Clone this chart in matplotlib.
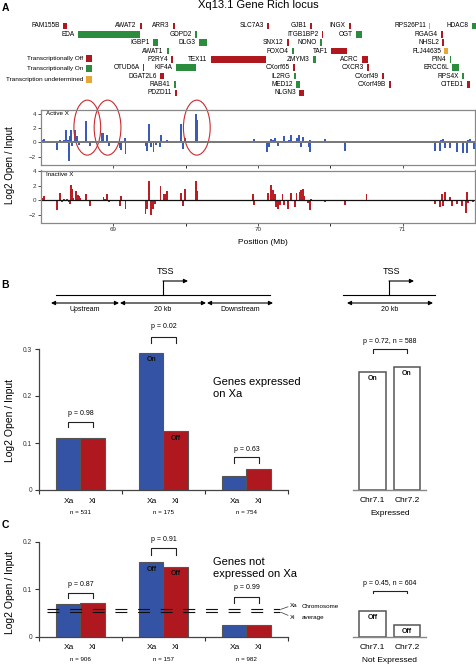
import numpy as np
import matplotlib
matplotlib.use("Agg")
import matplotlib.pyplot as plt
from matplotlib.patches import Ellipse, Rectangle

plt.rcParams['font.family'] = ['Liberation Sans', 'DejaVu Sans']
plt.rcParams['lines.scale_dashes'] = False

# ---- data ----
# gene map (Xq13.1), start/end in Mb, row of the map, status
gene_names = ['FAM155B', 'AWAT2', 'ARR3', 'SLC7A3', 'GJB1', 'INGX', 'RPS26P11', 'HDAC8',
              'EDA', 'GDPD2', 'ITGB1BP2', 'OGT', 'RGAG4',
              'IGBP1', 'DLG3', 'SNX12', 'NONO', 'NHSL2',
              'AWAT1', 'FOXO4', 'TAF1', 'FLJ44635',
              'P2RY4', 'TEX11', 'ZMYM3', 'ACRC', 'PIN4',
              'OTUD6A', 'KIF4A', 'CXorf65', 'CXCR3', 'ERCC6L',
              'DGAT2L6', 'IL2RG', 'CXorf49', 'RPS4X',
              'RAB41', 'MED12', 'CXorf49B', 'CITED1',
              'PDZD11', 'NLGN3']
gene_start = [68.652, 69.185, 69.413, 70.064, 70.362, 70.631, 71.185, 71.476,
              68.756, 69.566, 70.445, 70.680, 71.268,
              69.275, 69.593, 70.202, 70.431, 71.275,
              69.372, 70.237, 70.507, 71.289,
              69.400, 69.676, 70.382, 70.721, 71.324,
              69.206, 69.434, 70.244, 70.756, 71.344,
              69.324, 70.251, 70.860, 71.413,
              69.420, 70.265, 70.908, 71.448,
              69.427, 70.286]
gene_end = [68.680, 69.199, 69.427, 70.078, 70.375, 70.645, 71.192, 71.517,
            69.185, 69.580, 70.452, 70.721, 71.282,
            69.310, 69.649, 70.216, 70.445, 71.289,
            69.386, 70.251, 70.618, 71.310,
            69.413, 70.057, 70.403, 70.763, 71.337,
            69.213, 69.573, 70.258, 70.770, 71.386,
            69.351, 70.265, 70.874, 71.427,
            69.434, 70.292, 70.922, 71.462,
            69.441, 70.320]
gene_row = [1] * 8 + [2] * 5 + [3] * 5 + [4] * 4 + [5] * 5 + [6] * 5 + [7] * 4 + [8] * 4 + [9] * 2
gene_status = ['off', 'off', 'off', 'off', 'off', 'off', 'und', 'on',
               'on', 'on', 'off', 'on', 'off',
               'on', 'on', 'off', 'on', 'off',
               'on', 'on', 'off', 'und',
               'off', 'off', 'on', 'off', 'on',
               'off', 'on', 'off', 'off', 'on',
               'off', 'on', 'off', 'on',
               'on', 'on', 'off', 'off',
               'off', 'off']

# open chromatin tracks (Mb, log2 open/input)
active_pos = [68.507, 68.518, 68.608, 68.634, 68.657, 68.673, 68.685, 68.692, 68.701, 68.708,
              68.715, 68.738, 68.747, 68.765, 68.812, 68.839, 68.922, 68.932, 68.955, 68.973,
              69.047, 69.054, 69.082, 69.084, 69.222, 69.234, 69.245, 69.262, 69.278, 69.296,
              69.322, 69.329, 69.349, 69.372, 69.465, 69.481, 69.495, 69.569, 69.580, 69.972,
              70.065, 70.076, 70.092, 70.104, 70.115, 70.139, 70.178, 70.192, 70.215, 70.231,
              70.254, 70.272, 70.286, 70.298, 70.312, 70.349, 70.358, 70.362, 70.462, 70.600,
              70.750, 71.223, 71.258, 71.265, 71.281, 71.292, 71.327, 71.373, 71.415, 71.443,
              71.453, 71.464, 71.492]
active_val = [0.4, 0.5, -1.1, 0.4, 0.4, 1.7, 0.4, -2.7, 0.9, 1.7,
              -0.5, 1.7, 0.9, -0.3, 3.1, -0.5, 1.4, 1.3, 1.1, -0.5,
              -0.8, -1.1, 0.6, -1.6, -0.5, -1.2, 2.6, -0.7, -1.3, -0.4,
              -0.7, 1.0, 0.1, 0.3, 2.6, -0.9, 0.6, 4.0, 3.2, 0.5,
              -1.3, -0.7, 0.5, 0.4, 0.6, -0.5, 0.9, -0.1, 0.3, 1.1,
              0.2, 0.6, 1.0, -0.6, 0.8, -0.7, 0.4, -1.4, 0.5, -1.2,
              0.1, -1.2, -1.2, 0.3, 0.5, -0.8, -0.8, -1.4, -1.5, -1.5,
              0.3, 0.5, -1.0]
inactive_pos = [68.507, 68.518, 68.608, 68.634, 68.645, 68.662, 68.680, 68.692, 68.701, 68.708,
                68.715, 68.724, 68.742, 68.754, 68.765, 68.772, 68.812, 68.839, 68.932, 68.945,
                68.955, 68.973, 69.047, 69.056, 69.084, 69.222, 69.234, 69.245, 69.262, 69.273,
                69.285, 69.326, 69.349, 69.361, 69.372, 69.469, 69.483, 69.497, 69.569, 69.580,
                69.965, 69.972, 70.069, 70.092, 70.104, 70.115, 70.127, 70.139, 70.150, 70.169,
                70.178, 70.208, 70.226, 70.254, 70.266, 70.289, 70.300, 70.312, 70.319, 70.346,
                70.358, 70.369, 70.462, 70.600, 70.750, 71.223, 71.258, 71.269, 71.281, 71.292,
                71.327, 71.339, 71.373, 71.408, 71.438, 71.443, 71.453, 71.487]
inactive_val = [0.3, 0.6, -1.4, 1.0, -0.2, 0.1, 0.2, -0.3, -0.6, 2.1,
                1.6, 0.3, 1.2, 0.7, 0.5, 0.3, 0.8, -0.8, 0.4, 0.2,
                0.8, -0.2, -0.8, 0.6, -1.2, -1.9, -1.2, 2.7, -2.0, -1.3,
                -0.6, 1.9, 0.8, 0.9, 1.3, 1.0, -0.8, 1.6, 2.7, 1.2,
                0.8, -0.7, 1.0, 2.1, 1.4, 0.9, -1.0, -1.2, -0.7, 0.9,
                -0.7, -1.2, 1.0, -0.9, 1.0, 1.1, 1.4, 1.6, 0.5, -0.4,
                -1.4, 0.2, -0.2, -0.7, 0.9, -0.6, -0.9, 0.8, -0.8, 1.1,
                0.4, -0.8, -0.6, -0.8, -1.8, 1.1, -0.4, -0.2]
circled_mb = [68.82, 68.96, 69.577]

# B / C summary bars
regions = ['Upstream', 'TSS', 'Downstream']
xa_expr = [0.110, 0.292, 0.029]
xi_expr = [0.110, 0.125, 0.044]
n_expr = ['n = 531', 'n = 175', 'n = 754']
p_expr = ['p = 0.98', 'p = 0.02', 'p = 0.63']
chr7_expr = [0.252, 0.262]
p_chr7_expr = 'p = 0.72, n = 588'

xa_not = [0.068, 0.157, 0.024]
xi_not = [0.070, 0.147, 0.024]
n_not = ['n = 906', 'n = 157', 'n = 982']
p_not = ['p = 0.87', 'p = 0.91', 'p = 0.99']
chr7_not = [0.055, 0.025]
p_chr7_not = 'p = 0.45, n = 604'
chrom_avg = [0.058, 0.051]  # Xa, Xi
chr7_names = ['Chr7.1', 'Chr7.2']

BLUE = '#3553a4'
RED = '#b01820'
GREEN = '#2a8c3c'
ORANGE = '#e6a737'
TBLUE = '#3a5cb8'
TRED = '#bb1d25'
status_color = {'off': RED, 'on': GREEN, 'und': ORANGE}

W, H = 477, 665
fig = plt.figure(figsize=(W / 100, H / 100), dpi=100)


def px_axes(x0, y0, x1, y1):
    return fig.add_axes([x0 / W, 1 - y1 / H, (x1 - x0) / W, (y1 - y0) / H])


ov = px_axes(0, 0, W, H)
ov.set_xlim(0, W)
ov.set_ylim(H, 0)
ov.axis('off')

# ---- panel A : gene map ----
ov.text(5, 8, 'A', fontsize=7.5, fontweight='bold', ha='center', va='center')
ov.text(258, 5.5, 'Xq13.1 Gene Rich locus', fontsize=8, ha='center', va='center')

gax = px_axes(41, 21.8, 475, 97)
gax.set_xlim(68.5, 71.5)
gax.set_ylim(9.5, 0.5)
gax.axis('off')
for name, s, e, r, st in zip(gene_names, gene_start, gene_end, gene_row, gene_status):
    gax.add_patch(Rectangle((s, r - 0.39), e - s, 0.78, color=status_color[st],
                            lw=0, clip_on=False))
    gax.annotate(name, (s, r), xytext=(-2.5, 0), textcoords='offset points',
                 ha='right', va='center', fontsize=4.7)

for lab, col, y in [('Transcriptionally Off', RED, 58.5),
                    ('Transcriptionally On', GREEN, 68.5),
                    ('Transcription undetermined', ORANGE, 79.5)]:
    ov.text(83, y, lab, fontsize=4.6, ha='right', va='center')
    ov.add_patch(Rectangle((86, y - 3.4), 6, 6.8, color=col, lw=0))

# ---- panel A : tracks ----
axA = px_axes(41, 110, 475, 165)
axI = px_axes(41, 170.5, 475, 222.5)
for ax, pos, val, col, lim, lab in [(axA, active_pos, active_val, TBLUE, (-3.2, 4.6), 'Active X'),
                                    (axI, inactive_pos, inactive_val, TRED, (-3.1, 4.1), 'Inactive X')]:
    ax.bar(pos, val, width=0.013, color=col, lw=0)
    ax.set_xlim(68.5, 71.5)
    ax.set_ylim(*lim)
    ax.set_yticks([-2, 0, 2, 4])
    ax.set_xticks([69, 70, 71])
    ax.set_xticks([69.5, 70.5], minor=True)
    ax.tick_params(labelsize=4.5, length=2, width=0.6, pad=1.5, colors='#333')
    ax.tick_params(which='minor', length=2, width=0.6)
    for sp in ax.spines.values():
        sp.set_color('#888')
        sp.set_linewidth(0.9)
    ax.text(0.012, 0.93, lab, transform=ax.transAxes, fontsize=4.5, va='center')
axA.axhline(0, color='#777', lw=1.4)
axI.axhline(0, color='#111', lw=0.9)
axA.set_xticklabels([])
for c in circled_mb:
    axA.add_patch(Ellipse((c, 2.1), 0.185, 7.8, fill=False, ec='#cc2a30', lw=0.8,
                          clip_on=False))
ov.text(10, 165, 'Log2 Open / Input', rotation=90, fontsize=7, ha='center', va='center')
ov.text(263, 243, 'Position (Mb)', fontsize=6, ha='center', va='center')

# ---- panel B : TSS diagrams ----
ov.text(5, 285, 'B', fontsize=7.5, fontweight='bold', ha='center', va='center')
arr = dict(arrowstyle='<|-|>', color='k', lw=0.8, mutation_scale=6, shrinkA=0, shrinkB=0)
one = dict(arrowstyle='-|>', color='k', lw=0.8, mutation_scale=6, shrinkA=0, shrinkB=0)
for x0, x1, tx in [(56, 270, 163), (343, 435, 389)]:
    ov.plot([x0, x1], [295, 295], color='k', lw=0.8)
    ov.plot([tx, tx], [295, 281], color='k', lw=0.8)
    ov.annotate('', xy=(tx + 25, 281), xytext=(tx, 281), arrowprops=one)
    ov.text(tx + 3, 272, 'TSS', fontsize=6.5, ha='center', va='center')
for x0, x1, lab in [(51, 119, regions[0]), (120, 206, '20 kb'), (207, 273, regions[2]),
                    (347, 433, '20 kb')]:
    ov.annotate('', xy=(x0, 303), xytext=(x1, 303), arrowprops=arr)
    ov.text((x0 + x1) / 2, 309.5, lab, fontsize=5, ha='center', va='center')

ov.text(5, 525, 'C', fontsize=7.5, fontweight='bold', ha='center', va='center')
ov.text(10, 421, 'Log2 Open / Input', rotation=90, fontsize=7.5, ha='center', va='center')
ov.text(10, 592, 'Log2 Open / Input', rotation=90, fontsize=7.5, ha='center', va='center')


def bracket(ax, x0, x1, top, leg, ptxt, gap):
    ax.plot([x0, x0, x1, x1], [top - leg, top, top, top - leg], color='#222', lw=0.8,
            clip_on=False)
    ax.text((x0 + x1) / 2, top + gap, ptxt, fontsize=5, ha='center', va='center')


def group_panel(y0, y1, ymax, xa, xi, nlab, plab, tops, legs, gaps, title, inside):
    ax = px_axes(39, y0, 288, y1)
    g = np.arange(1, 4)
    pa, pi = g - 0.145, g + 0.145
    ax.bar(pa, xa, width=0.29, color=BLUE, ec='#555', lw=0.8)
    ax.bar(pi, xi, width=0.29, color=RED, ec='#555', lw=0.8)
    ax.set_xlim(0.5, 3.5)
    ax.set_ylim(0, ymax)
    ax.spines[['top', 'right']].set_visible(False)
    for s in ('left', 'bottom'):
        ax.spines[s].set_color('#444')
        ax.spines[s].set_linewidth(0.9)
    ticks = np.arange(0, ymax + 1e-9, 0.1)
    ax.set_yticks(ticks)
    ax.set_yticklabels(['0'] + ['%.1f' % t for t in ticks[1:]])
    ax.set_xticks([0.5, 1.5, 2.5, 3.5])
    ax.set_xticklabels([])
    ax.tick_params(labelsize=4.8, length=3, width=0.8, pad=2, colors='#333')
    for k in range(3):
        for x, lab in [(pa[k], 'Xa'), (pi[k], 'Xi')]:
            ax.annotate(lab, (x, 0), xytext=(0, -8), textcoords='offset points',
                        ha='center', va='center', fontsize=6)
        ax.annotate(nlab[k], (g[k], 0), xytext=(0, -16.5), textcoords='offset points',
                    ha='center', va='center', fontsize=4.5)
        bracket(ax, pa[k], pi[k], tops[k], legs[k], plab[k], gaps[k])
    ax.text(2.6, ymax * 0.725, title, fontsize=8, va='center', linespacing=1.25)
    for x, v, t in inside:
        ax.annotate(t, (x, v), xytext=(0, -5), textcoords='offset points',
                    ha='center', va='center', fontsize=5, fontweight='bold', color='#111')
    return ax


def chr7_panel(y0, y1, ymax, vals, top, leg, ptxt, gap, lab2, inner):
    ax = px_axes(353, y0, 426, y1)
    pos = np.array([1, 2])
    ax.bar(pos, vals, width=0.78, color='white', ec='#555', lw=1.1)
    ax.set_xlim(0.435, 2.55)
    ax.set_ylim(0, ymax)
    for s in ('left', 'top', 'right'):
        ax.spines[s].set_visible(False)
    ax.spines['bottom'].set_color('#888')
    ax.spines['bottom'].set_linewidth(1)
    ax.set_xticks([])
    ax.set_yticks([])
    for x, v, name in zip(pos, vals, chr7_names):
        ax.annotate(name, (x, 0), xytext=(0, -7.5), textcoords='offset points',
                    ha='center', va='center', fontsize=6)
        ax.annotate(inner, (x, v), xytext=(0, -5), textcoords='offset points',
                    ha='center', va='center', fontsize=5, fontweight='bold', color='#111')
    ax.annotate(lab2, (1.5, 0), xytext=(0, -17), textcoords='offset points',
                ha='center', va='center', fontsize=6)
    bracket(ax, pos[0], pos[1], top, leg, ptxt, gap)
    return ax


axB = group_panel(349, 490, 0.3, xa_expr, xi_expr, n_expr, p_expr,
                  [0.145, 0.325, 0.070], [0.012, 0.012, 0.012], [0.017, 0.022, 0.017],
                  'Genes expressed\non Xa',
                  [(2 - 0.145, xa_expr[1], 'On'), (2 + 0.145, xi_expr[1], 'Off')])
chr7_panel(349, 490, 0.3, chr7_expr, 0.300, 0.009, p_chr7_expr, 0.015, 'Expressed', 'On')

axC = group_panel(541.7, 636.7, 0.2, xa_not, xi_not, n_not, p_not,
                  [0.093, 0.186, 0.083], [0.012, 0.013, 0.011], [0.017, 0.018, 0.020],
                  'Genes not\nexpressed on Xa',
                  [(2 - 0.145, xa_not[1], 'Off'), (2 + 0.145, xi_not[1], 'Off')])
chr7_panel(541.7, 636.7, 0.2, chr7_not, 0.097, 0.006, p_chr7_not, 0.014,
           'Not Expressed', 'Off')

# chromosome averages in C
for v in chrom_avg:
    axC.plot([0.596, 3.40], [v, v], color='#111', lw=0.8, ls=(0, (8.6, 7.7)), zorder=5,
             clip_on=False)
axC.plot([3.42, 3.50], [chrom_avg[0], chrom_avg[0] + 0.005], color='#333', lw=0.5, clip_on=False)
axC.plot([3.42, 3.50], [chrom_avg[1], chrom_avg[1] - 0.006], color='#333', lw=0.5, clip_on=False)
axC.text(3.52, chrom_avg[0] + 0.008, 'Xa', fontsize=4.5, va='center', clip_on=False)
axC.text(3.52, chrom_avg[1] - 0.010, 'Xi', fontsize=4.5, va='center', clip_on=False)
axC.text(3.66, chrom_avg[0] + 0.005, 'Chromosome', fontsize=4.5, va='center')
axC.text(3.66, chrom_avg[1] - 0.010, 'average', fontsize=4.5, va='center')

fig.savefig('out.png', dpi=100)
